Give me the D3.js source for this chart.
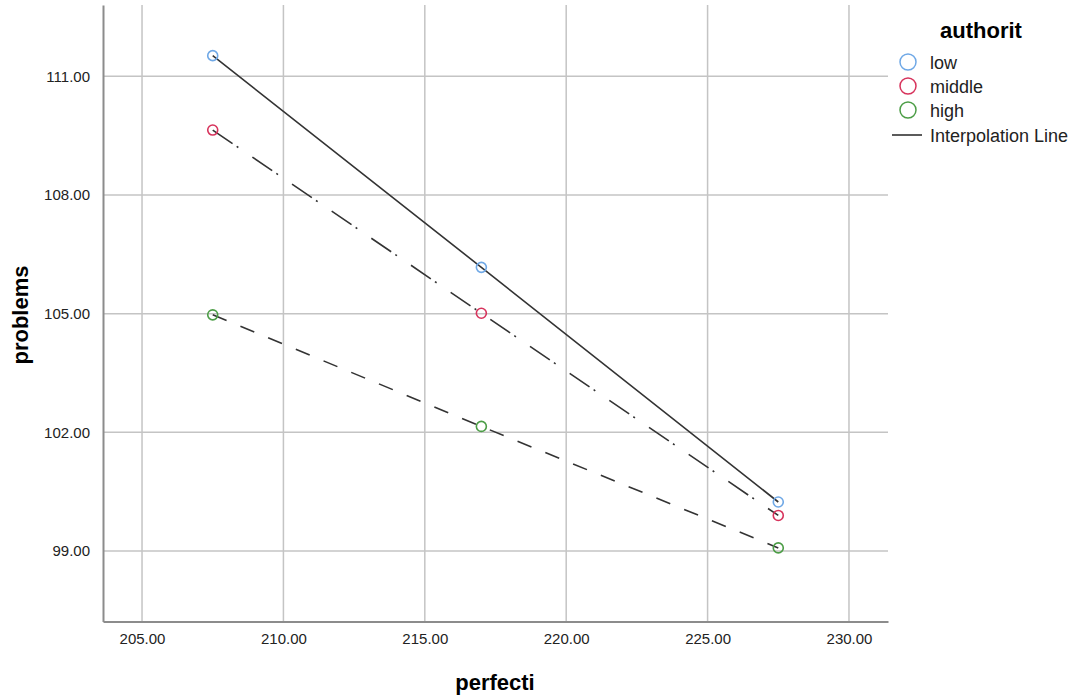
<!DOCTYPE html>
<html>
<head>
<meta charset="utf-8">
<script src="https://cdn.jsdelivr.net/npm/d3@7"></script>
<style>
  body { margin: 0; background: #fff; }
  text { font-family: Arial, "Liberation Sans", sans-serif; }
</style>
</head>
<body>
<div id="main"></div>
<script>
const ctx = {
    w: 1072,
    h: 697
};

// data
const groups = ["low", "middle", "high"];
const perfecti = [207.5, 217, 227.5];
const lowVals = [111.52, 106.17, 100.24];
const middleVals = [109.64, 105.01, 99.90];
const highVals = [104.97, 102.15, 99.08];
const xTicks = [205, 210, 215, 220, 225, 230];
const yTicks = [99, 102, 105, 108, 111];

const colors = { low: "#6fa8e6", middle: "#d7335c", high: "#4c9d46" };
const dashes = { low: null, middle: "24,5,2,17", high: "15,15" };

const series = groups.map((g, i) => ({
    name: g,
    values: [lowVals, middleVals, highVals][i].map((v, j) => ({ x: perfecti[j], y: v }))
}));

function createViz() {
    let svg = d3.select("#main").append("svg")
        .attr("width", ctx.w)
        .attr("height", ctx.h);

    let x = d3.scaleLinear().domain([203.62, 231.38]).range([103, 888]);
    let y = d3.scaleLinear().domain([97.22, 112.80]).range([621.5, 5]);

    // grid
    let grid = svg.append("g").attr("id", "grid");
    grid.selectAll("line.vx")
        .data(xTicks)
        .enter()
        .append("line")
            .attr("x1", (d) => x(d)).attr("x2", (d) => x(d))
            .attr("y1", y.range()[1]).attr("y2", y.range()[0])
            .attr("stroke", "#c4c4c4")
            .attr("stroke-width", 1.5);
    grid.selectAll("line.hy")
        .data(yTicks)
        .enter()
        .append("line")
            .attr("x1", x.range()[0]).attr("x2", x.range()[1])
            .attr("y1", (d) => y(d)).attr("y2", (d) => y(d))
            .attr("stroke", "#c4c4c4")
            .attr("stroke-width", 1.5);

    // axes
    let xAxis = d3.axisBottom(x).tickValues(xTicks).tickSize(0).tickPadding(12)
        .tickFormat(d3.format(".2f"));
    let yAxis = d3.axisLeft(y).tickValues(yTicks).tickSize(0).tickPadding(13)
        .tickFormat(d3.format(".2f"));
    let xg = svg.append("g")
        .attr("transform", `translate(0,${y.range()[0]})`)
        .call(xAxis);
    let yg = svg.append("g")
        .attr("transform", `translate(${x.range()[0]},0)`)
        .call(yAxis);
    [xg, yg].forEach((g) => {
        g.attr("font-size", 15).attr("font-family", "Arial, 'Liberation Sans', sans-serif");
        g.select(".domain").attr("stroke", "#8c8c8c").attr("stroke-width", 2);
        g.selectAll("text").attr("fill", "#222");
    });

    // axis titles
    svg.append("text")
        .attr("x", 495).attr("y", 690)
        .attr("text-anchor", "middle")
        .attr("font-size", 22).attr("font-weight", "bold")
        .text("perfecti");
    svg.append("text")
        .attr("transform", "translate(28,315) rotate(-90)")
        .attr("text-anchor", "middle")
        .attr("font-size", 22).attr("font-weight", "bold")
        .text("problems");

    // interpolation lines
    let line = d3.line().x((d) => x(d.x)).y((d) => y(d.y));
    svg.append("g").selectAll("path")
        .data(series)
        .enter()
        .append("path")
            .attr("d", (d) => line(d.values))
            .attr("fill", "none")
            .attr("stroke", "#333")
            .attr("stroke-width", 1.6)
            .attr("stroke-dasharray", (d) => dashes[d.name]);

    // points
    series.forEach((s) => {
        svg.append("g").selectAll("circle")
            .data(s.values)
            .enter()
            .append("circle")
                .attr("cx", (d) => x(d.x))
                .attr("cy", (d) => y(d.y))
                .attr("r", 5)
                .attr("fill", "none")
                .attr("stroke", colors[s.name])
                .attr("stroke-width", 1.6);
    });

    // legend
    let legend = svg.append("g").attr("id", "legend");
    legend.append("text")
        .attr("x", 981).attr("y", 38)
        .attr("text-anchor", "middle")
        .attr("font-size", 22).attr("font-weight", "bold")
        .text("authorit");
    groups.forEach((g, i) => {
        let yy = 62 + i * 24;
        legend.append("circle")
            .attr("cx", 908).attr("cy", yy)
            .attr("r", 8)
            .attr("fill", "none")
            .attr("stroke", colors[g])
            .attr("stroke-width", 1.5);
        legend.append("text")
            .attr("x", 930).attr("y", yy + 7)
            .attr("font-size", 18)
            .attr("fill", "#222")
            .text(g);
    });
    legend.append("line")
        .attr("x1", 892).attr("x2", 922)
        .attr("y1", 135).attr("y2", 135)
        .attr("stroke", "#333")
        .attr("stroke-width", 1.6);
    legend.append("text")
        .attr("x", 930).attr("y", 142)
        .attr("font-size", 18)
        .attr("fill", "#222")
        .text("Interpolation Line");
}

createViz();
</script>
</body>
</html>
